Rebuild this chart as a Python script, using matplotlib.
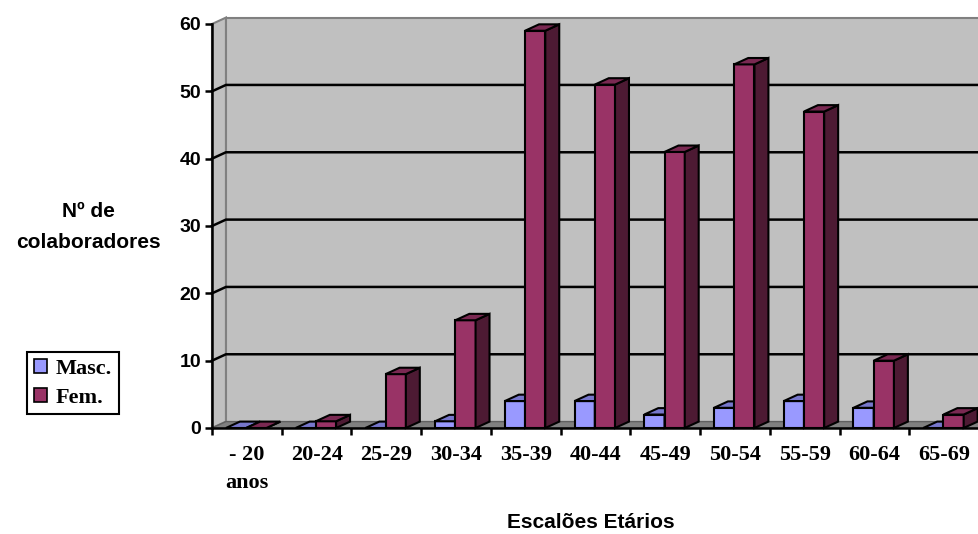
import matplotlib
matplotlib.use('Agg')
import matplotlib.pyplot as plt
from matplotlib.patches import Polygon, Patch
import numpy as np

# data
escaloes = ['- 20\nanos', '20-24', '25-29', '30-34', '35-39', '40-44',
            '45-49', '50-54', '55-59', '60-64', '65-69']
masc = [0, 0, 0, 1, 4, 4, 2, 3, 4, 3, 0]
fem = [0, 1, 8, 16, 59, 51, 41, 54, 47, 10, 2]

W, H = 979, 534
fig = plt.figure(figsize=(W / 100, H / 100), dpi=100)
ax = fig.add_axes([212 / W, (H - 428) / H, 767 / W, 404 / H])
ax.set_xlim(-0.5, 10.5)
ax.set_ylim(0, 60)

sans = 'Liberation Sans'
serif = 'Liberation Serif'

dx = 0.2    # depth offset, x units
dy = 0.95   # depth offset, y units
bw = 0.29

wall = '#c0c0c0'
# back wall, side wall, floor
ax.add_patch(Polygon([(-0.5 + dx, dy), (10.5 + dx, dy), (10.5 + dx, 60 + dy), (-0.5 + dx, 60 + dy)],
                     closed=True, fc=wall, ec='#808080', lw=1.5, zorder=0, clip_on=False))
ax.add_patch(Polygon([(-0.5, 0), (-0.5 + dx, dy), (-0.5 + dx, 60 + dy), (-0.5, 60)],
                     closed=True, fc=wall, ec='#808080', lw=1.5, zorder=0.5, clip_on=False))
ax.add_patch(Polygon([(-0.5, 0), (10.5, 0), (10.5 + dx, dy), (-0.5 + dx, dy)],
                     closed=True, fc='#808080', ec='#606060', lw=1, zorder=0.6, clip_on=False))
for v in range(10, 60, 10):
    ax.plot([-0.5, -0.5 + dx, 10.5 + dx], [v, v + dy, v + dy], color='black', lw=1.8,
            zorder=1, clip_on=False, solid_joinstyle='miter')

x = np.arange(len(escaloes))
xm = x - 0.01 - bw / 2
xf = x - 0.01 + bw / 2

series = [(xm, masc, '#9999ff', '#7777cc', '#4d4d80', 'Masc.'),
          (xf, fem, '#993366', '#7a2952', '#4d1a33', 'Fem.')]

for i in range(len(escaloes)):
    for k, (xs, vals, cf, ct, cs, lab) in enumerate(series):
        z = 3 + i * 0.1 + k * 0.03
        l = xs[i] - bw / 2
        r = xs[i] + bw / 2
        v = vals[i]
        ax.bar(xs[i], v, width=bw, color=cf, edgecolor='black', linewidth=1.5, zorder=z)
        ax.add_patch(Polygon([(r, 0), (r + dx, dy), (r + dx, v + dy), (r, v)], closed=True,
                             fc=cs, ec='black', lw=1.5, zorder=z + 0.01, clip_on=False))
        ax.add_patch(Polygon([(l, v), (r, v), (r + dx, v + dy), (l + dx, v + dy)], closed=True,
                             fc=ct, ec='black', lw=1.5, zorder=z + 0.02, clip_on=False))

for s in ['top', 'right']:
    ax.spines[s].set_visible(False)
for s in ['left', 'bottom']:
    ax.spines[s].set_linewidth(1.8)
    ax.spines[s].set_zorder(5)

ax.set_yticks(range(0, 70, 10))
ax.set_yticklabels([str(v) for v in range(0, 70, 10)], fontfamily=sans,
                   fontweight='bold', fontsize=14)
ax.tick_params(axis='y', length=5, width=1.8, pad=3)
ax.set_xticks(x)
ax.set_xticklabels(escaloes, fontfamily=serif, fontweight='bold', fontsize=16,
                   linespacing=1.55)
ax.tick_params(axis='x', length=0, pad=12)
ax.set_xticks(np.arange(-0.5, 11, 1), minor=True)
ax.tick_params(axis='x', which='minor', length=5, width=1.8)

fig.text(88 / W, 1 - 227 / H, 'Nº de\ncolaboradores', ha='center', va='center',
         fontfamily=sans, fontweight='bold', fontsize=15, linespacing=1.75)
fig.text(591 / W, 1 - 522 / H, 'Escalões Etários', ha='center', va='center',
         fontfamily=sans, fontweight='bold', fontsize=15)

handles = [Patch(fc=s[2], ec='black', lw=1.2, label=s[5]) for s in series]
leg = fig.legend(handles=handles, loc='upper left', bbox_to_anchor=(27 / W, 1 - 352 / H),
                 prop={'family': serif, 'weight': 'bold', 'size': 16},
                 frameon=True, fancybox=False, edgecolor='black', framealpha=1,
                 handlelength=0.6, handleheight=0.6, handletextpad=0.4,
                 borderpad=0.3, labelspacing=0.4, borderaxespad=0)
leg.get_frame().set_linewidth(1.5)

fig.savefig('out.png', dpi=100)
